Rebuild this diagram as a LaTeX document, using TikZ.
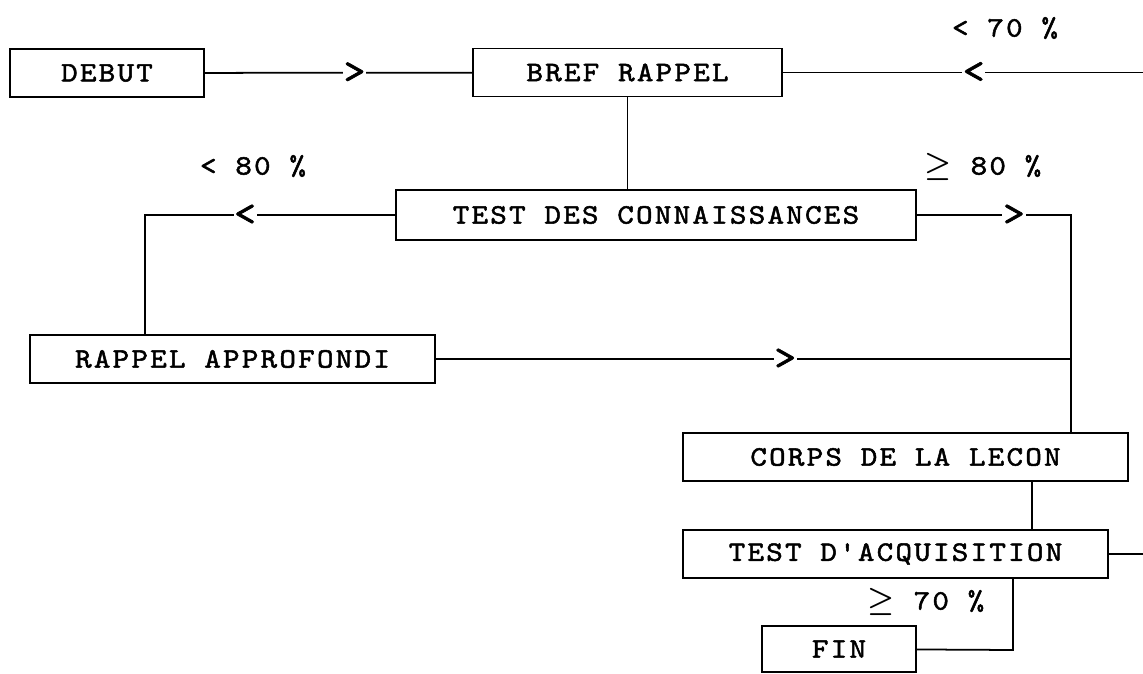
\documentclass[tikz,border=0pt]{standalone}
\usepackage{fontspec}
\usetikzlibrary{positioning}
\newfontfamily\maschine{lmmono10-regular.otf}[FakeStretch=1.12,LetterSpace=8,FakeBold=1.8]

\begin{document}
\begin{tikzpicture}[x=0.02cm,y=-0.02cm,line width=1pt,font=\maschine\fontsize{16}{18}\selectfont]
\tikzstyle{bx}=[draw,inner sep=0pt,minimum height=0.96cm]
\tikzstyle{chev}=[fill=white,inner sep=0.4pt,font=\maschine\fontsize{21}{22}\selectfont]
\useasboundingbox (0,0) rectangle (1143,673);
\node[bx,minimum width=3.88cm] (debut) at (107,73) {DEBUT};
\node[bx,minimum width=6.18cm] (bref) at (627.5,72.5) {BREF RAPPEL};
\node[bx,minimum width=10.4cm,minimum height=1cm] (testc) at (656,215) {TEST DES CONNAISSANCES};
\node[bx,minimum width=8.1cm] (rappel) at (232.5,359) {RAPPEL APPROFONDI};
\node[bx,minimum width=8.9cm] (corps) at (905.5,457) {CORPS DE LA LECON};
\node[bx,minimum width=8.5cm] (testa) at (895.5,554) {TEST D'ACQUISITION};
\node[bx,minimum width=3.08cm,minimum height=0.92cm] (fin) at (839,649) {FIN};
% seuils
\node (s70) at (1005,28) {< 70 \%};
\node (s80a) at (253,166) {< 80 \%};
\node (s80b) at (983,167) {{\boldmath$\geq$} 80 \%};
\node (s70b) at (926,602) {{\boldmath$\geq$} 70 \%};
% liaisons
\coordinate (retour) at (1143,72.5);
\coordinate (gauche) at (145,215);
\coordinate (droite) at (1071,215);
\coordinate (jonc) at (1071,359);
\coordinate (sortie) at (1143,554);
\coordinate (bas) at (1013,650);
\draw (debut) -- node[chev,pos=0.56]{>} (bref);
\draw (bref) -- node[chev,pos=0.53]{<} (retour);
\draw (bref.south) -- (bref.south |- testc.north);
\draw (testc) -- node[chev,pos=0.6]{<} (gauche) -- (gauche |- rappel.north);
\draw (testc) -- node[chev,pos=0.63]{>} (droite) -- (droite |- corps.north);
\draw (rappel) -- node[chev,pos=0.55]{>} (jonc);
\draw (1032,0 |- corps.south) -- (1032,0 |- testa.north);
\draw (testa) -- (sortie);
\draw (bas |- testa.south) -- (bas) -- (fin);
\end{tikzpicture}
\end{document}
